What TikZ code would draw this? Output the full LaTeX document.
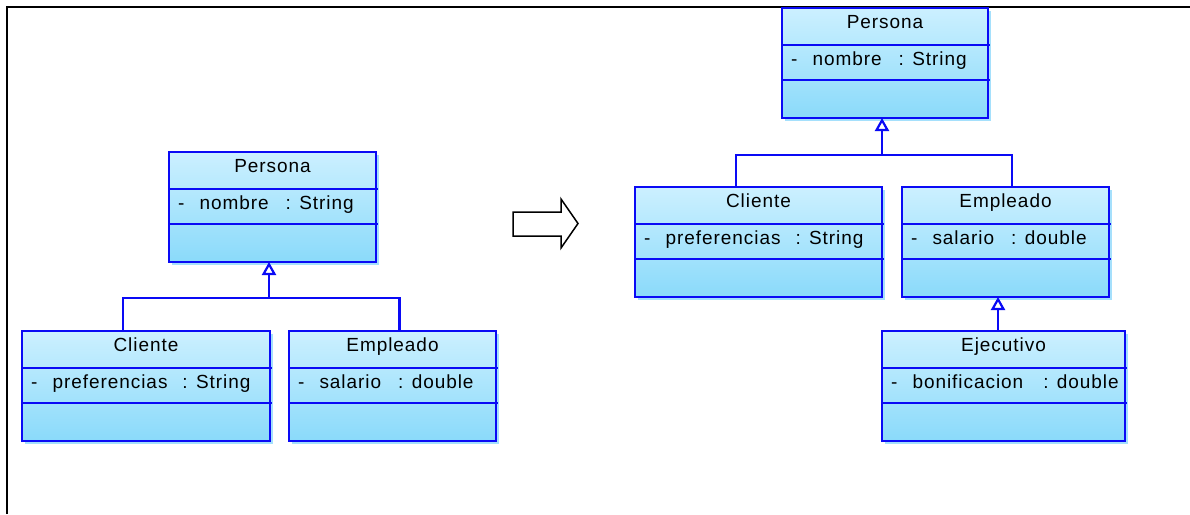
\documentclass[tikz,border=0pt]{standalone}
\usepackage{fontspec}
\setmainfont{Liberation Sans}[LetterSpace=5]
\usetikzlibrary{arrows.meta,shadows}
\definecolor{umlblue}{RGB}{10,10,245}
\definecolor{umltop}{RGB}{204,240,255}
\definecolor{umlbot}{RGB}{138,218,250}
\definecolor{umlshade}{RGB}{165,224,252}
% class box: name, x, y, width, title, attribute
\newcommand{\umlclass}[6]{%
	\node[classbox,minimum width=#4pt] (#1) at (#2,#3) {};
	\draw[sepline] ([yshift=-37pt]#1.north west) -- ([yshift=-37pt,xshift=2pt]#1.north east);
	\draw[sepline] ([yshift=-72pt]#1.north west) -- ([yshift=-72pt,xshift=2pt]#1.north east);
	\node[classname] (#1-name) at ([yshift=-20pt]#1.north) {#5};
	\node[classattr] (#1-attr) at ([yshift=-57pt,xshift=9pt]#1.north west) {#6};
}
\begin{document}
\begin{tikzpicture}[x=1pt,y=-1pt,
		classbox/.style={draw=umlblue,line width=2.4pt,anchor=north west,inner sep=0pt,outer sep=0pt,
			minimum height=110pt,top color=umltop,bottom color=umlbot,
			drop shadow={shadow xshift=3pt,shadow yshift=-3pt,fill=umlshade,opacity=1}},
		sepline/.style={draw=umlblue,line width=2.2pt},
		classname/.style={anchor=base,inner sep=0pt,font=\fontsize{19}{22}\selectfont,text=black},
		classattr/.style={anchor=base west,inner sep=0pt,font=\fontsize{19}{22}\selectfont,text=black},
		link/.style={draw=umlblue,line width=2.4pt},
		inherit/.style={link,-{Triangle[open,width=14pt,length=13pt,line width=2.2pt]}}]
	\useasboundingbox (0,0) rectangle (1190,514);
	% frame
	\draw[line width=2.4pt] (7,514) -- (7,7) -- (1190,7);
	%BEFORE
	\umlclass{lPer}{169}{152}{207}{Persona}{-\hspace{15pt}nombre\hspace{17pt}: String}
	\umlclass{lCli}{22}{331}{248}{Cliente}{-\hspace{15pt}preferencias\hspace{15pt}: String}
	\umlclass{lEmp}{289}{331}{207}{Empleado}{-\hspace{15pt}salario\hspace{17pt}: double}
	\coordinate (lbus) at (269,298);
	\draw[link] ([xshift=-23pt]lCli.north) |- (lbus) -| ([xshift=7pt]lEmp.north);
	\draw[inherit] (lbus) -- ([xshift=-3.5pt]lPer.south);
	% transformation arrow
	\draw[line width=1.5pt,fill=white,line join=miter] (513,212) -- (561,212) -- (561,199) -- (578,223.5)
		-- (561,248) -- (561,236) -- (513,236) -- cycle;
	%AFTER
	\umlclass{rPer}{782}{8}{206}{Persona}{-\hspace{15pt}nombre\hspace{17pt}: String}
	\umlclass{rCli}{635}{187}{247}{Cliente}{-\hspace{15pt}preferencias\hspace{15pt}: String}
	\umlclass{rEmp}{902}{187}{207}{Empleado}{-\hspace{15pt}salario\hspace{17pt}: double}
	\umlclass{rEje}{882}{331}{243}{Ejecutivo}{-\hspace{15pt}bonificacion\hspace{20pt}: double}
	\coordinate (rbus) at (882,155);
	\draw[link] ([xshift=-22.5pt]rCli.north) |- (rbus) -| ([xshift=6.5pt]rEmp.north);
	\draw[inherit] (rbus) -- ([xshift=-3pt]rPer.south);
	\draw[inherit] ([xshift=-5.5pt]rEje.north) -- ([xshift=-7.5pt]rEmp.south);
\end{tikzpicture}
\end{document}
